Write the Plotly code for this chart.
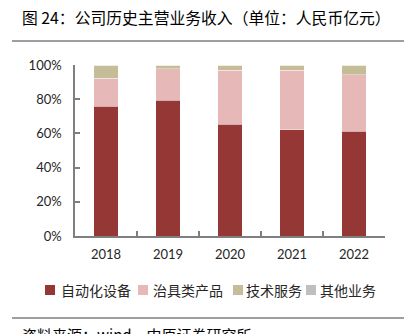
import plotly.graph_objects as go

years = ["2018", "2019", "2020", "2021", "2022"]
automation = [76.0, 79.3, 65.4, 62.2, 61.4]
fixtures = [16.2, 18.5, 31.5, 34.7, 32.9]
tech_service = [7.8, 2.2, 3.1, 3.1, 5.7]
other = [0.0, 0.0, 0.0, 0.0, 0.0]

names = ["自动化设备", "治具类产品", "技术服务", "其他业务"]
colors = ["#953735", "#E6B9B8", "#C4BD97", "#BFBFBF"]
series = [automation, fixtures, tech_service, other]

W, H = 408, 334
L, R, T, B = 75, 23, 65, 98

fig = go.Figure()
for name, col, vals in zip(names, colors, series):
    fig.add_trace(go.Bar(
        x=years, y=vals, name=name,
        marker=dict(color=col, line=dict(color="rgba(255,255,255,0.6)", width=0.6)),
        showlegend=False,
    ))

def px2paper_x(px):
    return (px - L) / (W - L - R)

def px2paper_y(py):
    return (H - B - py) / (H - T - B)

cjk = "Noto Sans CJK SC"

fig.update_layout(
    width=W, height=H,
    margin=dict(l=L, r=R, t=T, b=B),
    barmode="stack", bargap=0.6,
    plot_bgcolor="white", paper_bgcolor="white",
    font=dict(family=cjk, size=12, color="#404040"),
    xaxis=dict(
        showline=True, linecolor="#7f7f7f", linewidth=1.5,
        ticks="inside", tickson="boundaries", ticklen=5, tickcolor="#7f7f7f", tickwidth=1.5,
        tickfont=dict(family="Lato", size=13, color="#262626"),
        ticklabelstandoff=6,
        showgrid=False, fixedrange=True,
    ),
    yaxis=dict(
        range=[0, 100], dtick=20, ticksuffix="%",
        showline=True, linecolor="#7f7f7f", linewidth=1.5,
        ticks="inside", ticklen=5, tickcolor="#7f7f7f", tickwidth=1.5,
        tickfont=dict(family="Lato", size=13, color="#262626"),
        ticklabelstandoff=9,
        showgrid=False, zeroline=False, fixedrange=True,
    ),
)

def left_text(text, px, py, size, color, width):
    fig.add_annotation(
        text=text, xref="paper", yref="paper",
        x=px2paper_x(px), y=px2paper_y(py),
        xanchor="left", yanchor="middle", showarrow=False,
        width=width, align="left", borderpad=0,
        font=dict(family=cjk, size=size, color=color),
    )

# Title
left_text("图 24：公司历史主营业务收入（单位：人民币亿元）", 21, 18, 15.8, "#000000", 385)

# Rules
for yy in (41, 318):
    fig.add_shape(type="line", xref="paper", yref="paper",
                  x0=px2paper_x(12), x1=px2paper_x(404),
                  y0=px2paper_y(yy), y1=px2paper_y(yy),
                  line=dict(color="#404040", width=1.2))

# Source (cut off at the bottom)
left_text("资料来源：wind，中原证券研究所", 21, 334, 15, "#000000", 380)

# Legend drawn manually: coloured squares + labels
square_x = [45, 138, 233, 306]
text_x = [60, 152, 245, 319]
for name, col, sx, tx in zip(names, colors, square_x, text_x):
    fig.add_shape(type="rect", xref="paper", yref="paper",
                  x0=px2paper_x(sx), x1=px2paper_x(sx + 10),
                  y0=px2paper_y(285), y1=px2paper_y(295),
                  fillcolor=col, line=dict(width=0))
    left_text(name, tx, 290, 14, "#262626", 80)

fig.write_html("out.html")
